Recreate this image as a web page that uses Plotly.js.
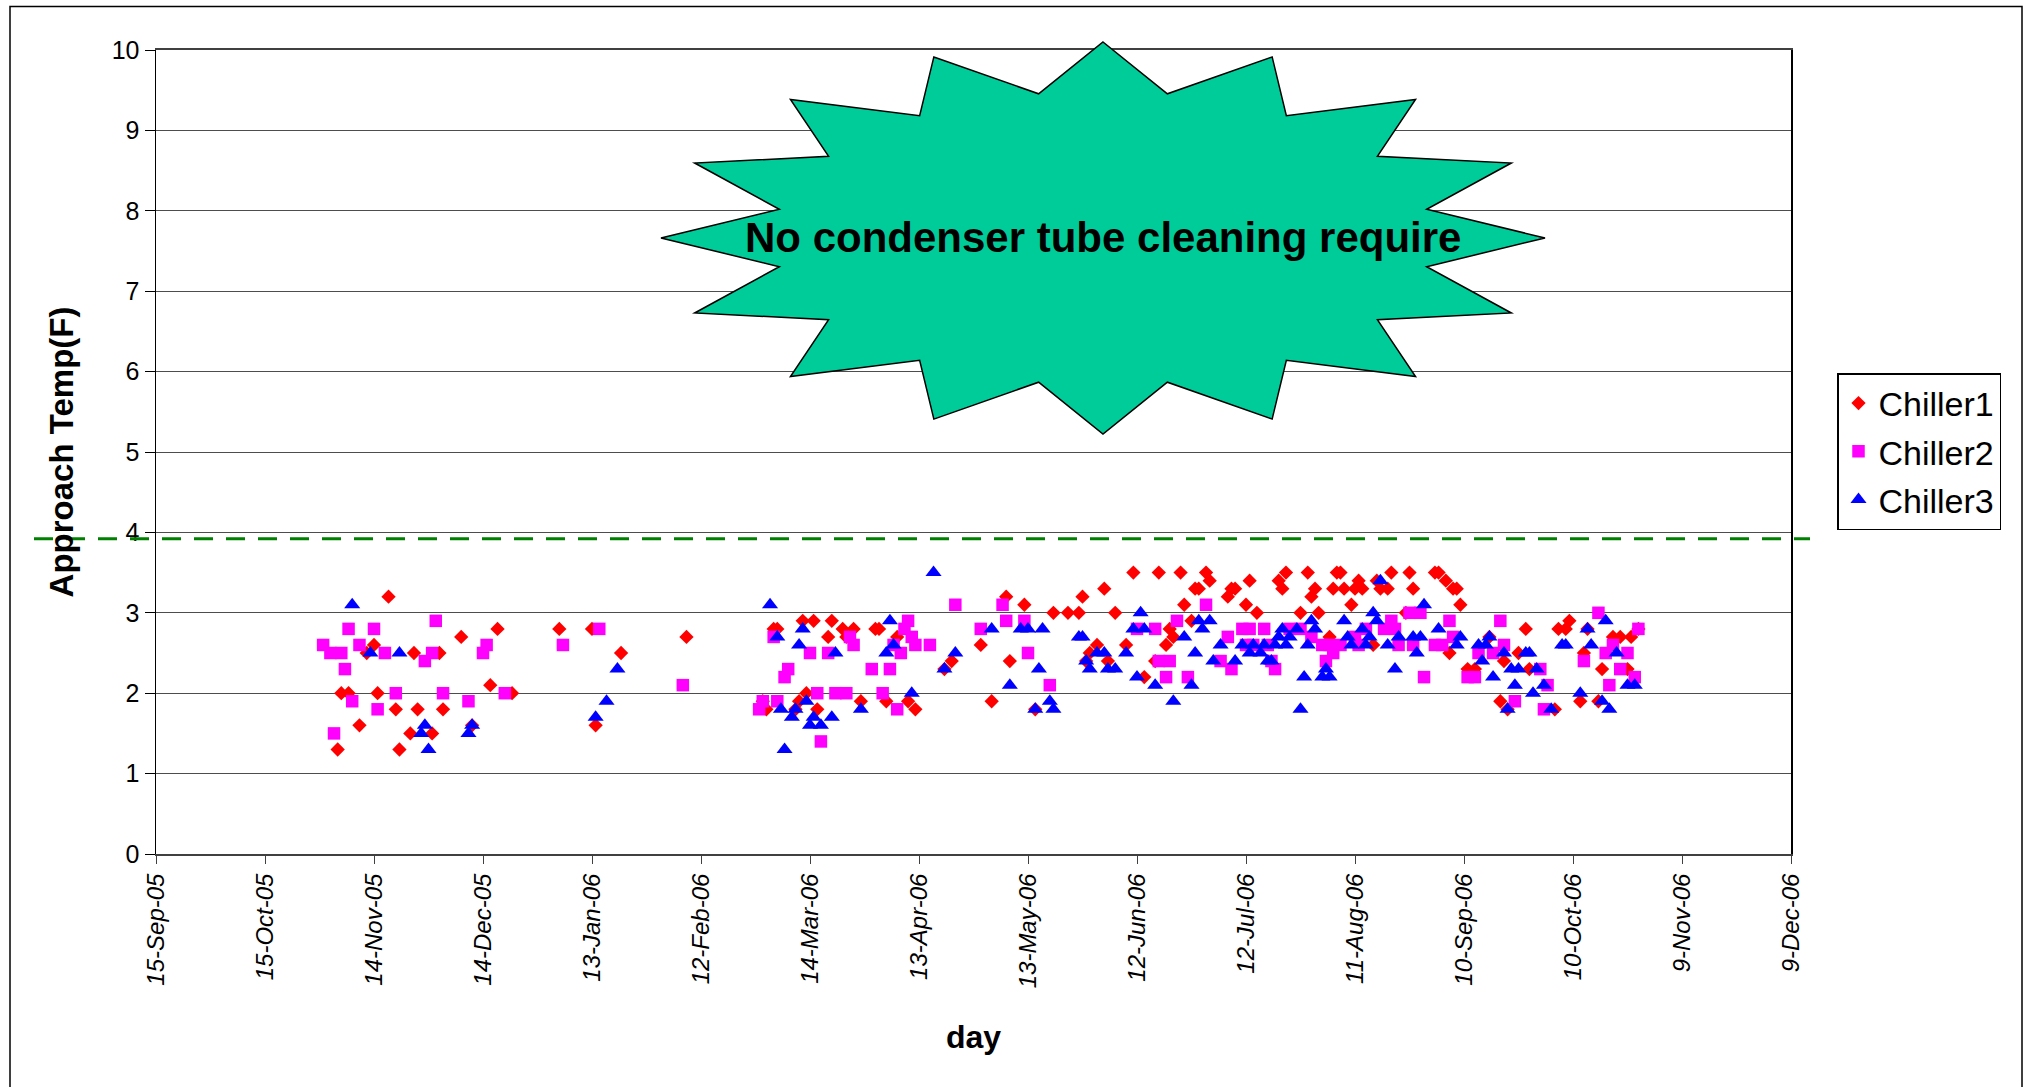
<!DOCTYPE html>
<html>
<head>
<meta charset="utf-8">
<script src="https://cdn.plot.ly/plotly-3.0.1.min.js"></script>
<style>
html,body{margin:0;padding:0;background:#fff;}
#chart{width:2027px;height:1087px;}
</style>
</head>
<body>
<div id="chart"></div>
<script>
// ---------------- DATA ----------------
const seriesNames = ['Chiller1', 'Chiller2', 'Chiller3'];

const chiller1Dates = [
  '2005-11-04','2005-11-05','2005-11-07','2005-11-10','2005-11-12','2005-11-14','2005-11-15','2005-11-18','2005-11-20','2005-11-21','2005-11-24','2005-11-25','2005-11-26','2005-11-30',
  '2005-12-02','2005-12-03','2005-12-08','2005-12-11','2005-12-16','2005-12-18','2005-12-22',
  '2006-01-04','2006-01-13','2006-01-14','2006-01-21','2006-02-08',
  '2006-03-01','2006-03-02','2006-03-04','2006-03-05','2006-03-10','2006-03-11','2006-03-12','2006-03-13','2006-03-15','2006-03-16','2006-03-19','2006-03-20','2006-03-23','2006-03-24','2006-03-26','2006-03-28',
  '2006-04-01','2006-04-02','2006-04-04','2006-04-07','2006-04-10','2006-04-12','2006-04-20','2006-04-22','2006-04-30',
  '2006-05-03','2006-05-07','2006-05-08','2006-05-12','2006-05-15','2006-05-20','2006-05-24','2006-05-27','2006-05-28','2006-05-29','2006-05-30',
  '2006-06-01','2006-06-03','2006-06-04','2006-06-06','2006-06-09','2006-06-11','2006-06-14','2006-06-17','2006-06-18','2006-06-20','2006-06-21','2006-06-22','2006-06-24','2006-06-25','2006-06-27','2006-06-28','2006-06-29',
  '2006-07-01','2006-07-02','2006-07-07','2006-07-08','2006-07-09','2006-07-12','2006-07-13','2006-07-15','2006-07-21','2006-07-22','2006-07-23','2006-07-27','2006-07-29','2006-07-30','2006-07-31',
  '2006-08-01','2006-08-04','2006-08-05','2006-08-06','2006-08-07','2006-08-08','2006-08-10','2006-08-11','2006-08-12','2006-08-13','2006-08-16','2006-08-17','2006-08-18','2006-08-20','2006-08-21','2006-08-25','2006-08-26','2006-08-27',
  '2006-09-02','2006-09-03','2006-09-05','2006-09-06','2006-09-07','2006-09-08','2006-09-09','2006-09-11','2006-09-13','2006-09-17','2006-09-20','2006-09-21','2006-09-22','2006-09-25','2006-09-27','2006-09-28',
  '2006-10-05','2006-10-06','2006-10-08','2006-10-09','2006-10-12','2006-10-13','2006-10-14','2006-10-17','2006-10-18','2006-10-21','2006-10-23','2006-10-25','2006-10-26','2006-10-28'
];
const chiller1Values = [
  1.3,2.0,2.0,1.6,2.5,2.6,2.0,3.2,1.8,1.3,1.5,2.5,1.8,1.5,
  2.5,1.8,2.7,1.6,2.1,2.8,2.0,
  2.8,2.8,1.6,2.5,2.7,
  1.9,1.8,2.8,2.8,1.8,1.9,2.9,2.0,2.9,1.8,2.7,2.9,2.8,2.7,2.8,1.9,
  2.8,2.8,1.9,2.7,1.9,1.8,2.3,2.4,2.6,
  1.9,3.2,2.4,3.1,1.8,3.0,3.0,3.0,3.2,2.4,2.5,
  2.6,3.3,2.4,3.0,2.6,3.5,2.2,2.4,3.5,2.6,2.8,2.7,3.5,3.1,2.9,3.3,3.3,
  3.5,3.4,3.2,3.3,3.3,3.1,3.4,3.0,3.4,3.3,3.5,3.0,3.5,3.2,3.3,
  3.0,2.7,3.3,3.5,3.5,3.3,3.1,3.3,3.4,3.3,2.6,3.4,3.3,3.3,3.5,3.0,3.5,3.3,
  3.5,3.5,3.4,2.5,3.3,3.3,3.1,2.3,2.3,2.7,1.9,2.4,1.8,2.5,2.8,2.3,
  1.8,2.8,2.8,2.9,1.9,2.5,2.8,1.9,2.3,2.7,2.7,2.3,2.7,2.8
];

const chiller2Dates = [
  '2005-10-31','2005-11-02','2005-11-03','2005-11-05','2005-11-06','2005-11-07','2005-11-08','2005-11-10','2005-11-14','2005-11-15','2005-11-17','2005-11-20','2005-11-28','2005-11-30',
  '2005-12-01','2005-12-03','2005-12-10','2005-12-14','2005-12-15','2005-12-20',
  '2006-01-05','2006-01-15','2006-02-07','2006-02-28',
  '2006-03-01','2006-03-04','2006-03-05','2006-03-07','2006-03-08','2006-03-14','2006-03-16','2006-03-17','2006-03-19','2006-03-21','2006-03-24','2006-03-25','2006-03-26','2006-03-31',
  '2006-04-03','2006-04-05','2006-04-06','2006-04-07','2006-04-08','2006-04-09','2006-04-10','2006-04-11','2006-04-12','2006-04-16','2006-04-23','2006-04-30',
  '2006-05-06','2006-05-07','2006-05-12','2006-05-13','2006-05-19',
  '2006-06-12','2006-06-17','2006-06-18','2006-06-20','2006-06-21','2006-06-23','2006-06-26',
  '2006-07-01','2006-07-05','2006-07-07','2006-07-08','2006-07-11','2006-07-12','2006-07-13','2006-07-14','2006-07-17','2006-07-18','2006-07-19','2006-07-20','2006-07-24','2006-07-27','2006-07-30',
  '2006-08-02','2006-08-03','2006-08-04','2006-08-05','2006-08-07','2006-08-11','2006-08-12','2006-08-14','2006-08-19','2006-08-21','2006-08-22','2006-08-23','2006-08-26','2006-08-27','2006-08-29','2006-08-30',
  '2006-09-02','2006-09-04','2006-09-06','2006-09-07','2006-09-11','2006-09-13','2006-09-14','2006-09-18','2006-09-20','2006-09-21','2006-09-24',
  '2006-10-01','2006-10-02','2006-10-03','2006-10-13','2006-10-17','2006-10-19','2006-10-20','2006-10-21','2006-10-23','2006-10-25','2006-10-27','2006-10-28'
];
const chiller2Values = [
  2.6,2.5,1.5,2.5,2.3,2.8,1.9,2.6,2.8,1.8,2.5,2.0,2.4,2.5,
  2.9,2.0,1.9,2.5,2.6,2.0,
  2.6,2.8,2.1,1.8,
  1.9,2.7,1.9,2.2,2.3,2.5,2.0,1.4,2.5,2.0,2.0,2.7,2.6,2.3,
  2.0,2.3,2.6,1.8,2.5,2.8,2.9,2.7,2.6,2.6,3.1,2.8,
  3.1,2.9,2.9,2.5,2.1,
  2.8,2.8,2.4,2.2,2.4,2.9,2.2,
  3.1,2.4,2.7,2.3,2.8,2.6,2.8,2.6,2.8,2.6,2.4,2.3,2.8,2.8,2.7,
  2.6,2.4,2.6,2.5,2.6,2.7,2.6,2.8,2.8,2.9,2.8,2.6,3.0,2.6,3.0,2.2,
  2.6,2.6,2.9,2.7,2.2,2.2,2.5,2.5,2.9,2.6,1.9,
  2.3,1.8,2.1,2.4,3.0,2.5,2.1,2.6,2.3,2.5,2.2,2.8
];

const chiller3Dates = [
  '2005-11-08','2005-11-13','2005-11-21','2005-11-27','2005-11-28','2005-11-29','2005-12-10','2005-12-11',
  '2006-01-14','2006-01-17','2006-01-20',
  '2006-03-03','2006-03-05','2006-03-06','2006-03-07','2006-03-09','2006-03-10','2006-03-11','2006-03-12','2006-03-13','2006-03-14','2006-03-15','2006-03-17','2006-03-20','2006-03-21','2006-03-28',
  '2006-04-04','2006-04-05','2006-04-06','2006-04-11','2006-04-17','2006-04-20','2006-04-23',
  '2006-05-03','2006-05-08','2006-05-11','2006-05-13','2006-05-15','2006-05-16','2006-05-17','2006-05-19','2006-05-20','2006-05-27','2006-05-28','2006-05-29','2006-05-30',
  '2006-06-01','2006-06-03','2006-06-04','2006-06-06','2006-06-09','2006-06-11','2006-06-12','2006-06-13','2006-06-14','2006-06-17','2006-06-22','2006-06-25','2006-06-27','2006-06-28','2006-06-29','2006-06-30',
  '2006-07-02','2006-07-03','2006-07-05','2006-07-09','2006-07-11','2006-07-13','2006-07-14','2006-07-16','2006-07-17','2006-07-18','2006-07-19','2006-07-20','2006-07-21','2006-07-22','2006-07-23','2006-07-24','2006-07-26','2006-07-27','2006-07-28','2006-07-29','2006-07-30','2006-07-31',
  '2006-08-02','2006-08-03','2006-08-04','2006-08-08','2006-08-09','2006-08-10','2006-08-13','2006-08-14','2006-08-15','2006-08-16','2006-08-17','2006-08-18','2006-08-20','2006-08-22','2006-08-23','2006-08-27','2006-08-28','2006-08-29','2006-08-30',
  '2006-09-03','2006-09-08','2006-09-09','2006-09-14','2006-09-15','2006-09-16','2006-09-17','2006-09-18','2006-09-21','2006-09-22','2006-09-23','2006-09-24','2006-09-25','2006-09-27','2006-09-28','2006-09-29','2006-09-30',
  '2006-10-02','2006-10-04','2006-10-07','2006-10-08','2006-10-12','2006-10-14','2006-10-15','2006-10-18','2006-10-19','2006-10-20','2006-10-22','2006-10-25','2006-10-27'
];
const chiller3Values = [
  3.1,2.5,2.5,1.5,1.6,1.3,1.5,1.6,
  1.7,1.9,2.3,
  3.1,2.7,1.8,1.3,1.7,1.8,2.6,2.8,1.9,1.6,1.7,1.6,1.7,2.5,1.8,
  2.5,2.9,2.6,2.0,3.5,2.3,2.5,
  2.8,2.1,2.8,2.8,1.8,2.3,2.8,1.9,1.8,2.7,2.7,2.4,2.3,
  2.5,2.5,2.3,2.3,2.5,2.8,2.2,3.0,2.8,2.1,1.9,2.7,2.1,2.5,2.9,2.8,
  2.9,2.4,2.6,2.4,2.6,2.5,2.6,2.5,2.6,2.4,2.4,2.6,2.7,2.8,2.6,2.7,2.8,1.8,2.2,2.6,2.9,2.8,
  2.2,2.3,2.2,2.9,2.7,2.6,2.8,2.6,2.7,3.0,2.9,3.4,2.6,2.3,2.7,2.7,2.5,2.7,3.1,
  2.8,2.6,2.7,2.6,2.4,2.6,2.7,2.2,2.5,1.8,2.3,2.1,2.3,2.5,2.5,2.0,2.3,
  2.1,1.8,2.6,2.6,2.0,2.8,2.6,1.9,2.9,1.8,2.5,2.1,2.1
];

const tickDates = ['2005-09-15','2005-10-15','2005-11-14','2005-12-14','2006-01-13','2006-02-12','2006-03-14','2006-04-13',
                   '2006-05-13','2006-06-12','2006-07-12','2006-08-11','2006-09-10','2006-10-10','2006-11-09','2006-12-09'];
const tickLabels = ['15-Sep-05','15-Oct-05','14-Nov-05','14-Dec-05','13-Jan-06','12-Feb-06','14-Mar-06','13-Apr-06',
                    '13-May-06','12-Jun-06','12-Jul-06','11-Aug-06','10-Sep-06','10-Oct-06','9-Nov-06','9-Dec-06'];
const xRange = ['2005-09-15', '2006-12-09'];
const yRange = [0, 10];
const thresholdValue = 3.92;
const calloutText = 'No condenser tube cleaning require';
const xTitle = 'day';
const yTitle = 'Approach Temp(F)';

// ---------------- LAYOUT GEOMETRY ----------------
const W = 2027, H = 1087;
const M = {l: 156, r: 236, t: 50, b: 233};
const PW = W - M.l - M.r, PH = H - M.t - M.b;
const pxX = p => (p - M.l) / PW;          // pixel -> paper x
const pxY = p => (H - M.b - p) / PH;      // pixel -> paper y
const FONT = 'Liberation Sans, Arial, Helvetica, sans-serif';

// starburst callout (decoration)
const star = {cx: 1103, cy: 238, rxO: 442, ryO: 196, rxI: 330, ryI: 147, n: 16};
let starPath = '';
for (let i = 0; i < 2 * star.n; i++) {
  const a = -Math.PI / 2 + i * Math.PI / star.n;
  const outer = i % 2 === 0;
  const rx = outer ? star.rxO : star.rxI;
  const ry = outer ? star.ryO : star.ryI;
  const x = pxX(star.cx + rx * Math.cos(a));
  const y = pxY(star.cy + ry * Math.sin(a));
  starPath += (i === 0 ? 'M' : 'L') + x.toFixed(5) + ',' + y.toFixed(5) + ' ';
}
starPath += 'Z';

const traces = [
  {type: 'scatter', mode: 'markers', name: seriesNames[0], x: chiller1Dates, y: chiller1Values,
   legendgroup: 'g1', marker: {symbol: 'diamond', size: 11, color: '#FF0000'}},
  {type: 'scatter', mode: 'markers', name: seriesNames[1], x: chiller2Dates, y: chiller2Values,
   legendgroup: 'g2', marker: {symbol: 'square', size: 12.5, color: '#FF00FF'}},
  {type: 'scatter', mode: 'markers', name: seriesNames[2], x: chiller3Dates, y: chiller3Values,
   legendgroup: 'g3', marker: {symbol: 'triangle-up', size: 14, color: '#0000FF'}}
];

const layout = {
  width: W, height: H,
  margin: M,
  paper_bgcolor: '#ffffff',
  plot_bgcolor: '#ffffff',
  font: {family: FONT, color: '#000000'},
  showlegend: true,
  legend: {
    x: pxX(1837), y: pxY(373), xanchor: 'left', yanchor: 'top',
    bgcolor: '#ffffff', bordercolor: '#000000', borderwidth: 1.5,
    font: {family: FONT, size: 34, color: '#000000'},
    tracegroupgap: 1
  },
  xaxis: {
    type: 'date', range: xRange, autorange: false,
    tickmode: 'array', tickvals: tickDates, ticktext: tickLabels,
    tickangle: -90,
    tickfont: {family: FONT, size: 24, style: 'italic', color: '#000000'},
    ticks: 'outside', ticklen: 8, tickcolor: '#404040', tickwidth: 1,
    showgrid: false, zeroline: false,
    showline: true, linecolor: '#404040', linewidth: 2, mirror: true,
    automargin: false,
    title: {text: xTitle, font: {family: FONT, size: 32, weight: 'bold', color: '#000000'}, standoff: 38}
  },
  yaxis: {
    range: yRange, autorange: false, tick0: 0, dtick: 1,
    tickfont: {family: FONT, size: 25, color: '#000000'},
    ticks: 'outside', ticklen: 10, tickcolor: '#000000', tickwidth: 1,
    showgrid: true, gridcolor: '#4d4d4d', gridwidth: 1,
    zeroline: false,
    showline: true, linecolor: '#000000', linewidth: 1.5, mirror: true,
    automargin: false,
    title: {text: yTitle, font: {family: FONT, size: 33, weight: 'bold', color: '#000000'}, standoff: 28}
  },
  shapes: [
    // outer chart-area frame
    {type: 'rect', xref: 'paper', yref: 'paper', x0: pxX(10), x1: pxX(2022), y0: pxY(1120), y1: pxY(6.5),
     line: {color: '#000000', width: 1.5}, fillcolor: 'rgba(0,0,0,0)', layer: 'below'},
    // threshold dashed line
    {type: 'line', xref: 'paper', yref: 'paper', x0: pxX(34), x1: pxX(1810),
     y0: (thresholdValue - yRange[0]) / (yRange[1] - yRange[0]),
     y1: (thresholdValue - yRange[0]) / (yRange[1] - yRange[0]),
     line: {color: '#008000', width: 3, dash: '19px,13px'}},
    // starburst
    {type: 'path', xref: 'paper', yref: 'paper', path: starPath,
     fillcolor: '#00CC99', line: {color: '#000000', width: 1.5}, layer: 'above'}
  ],
  annotations: [
    {xref: 'paper', yref: 'paper', x: pxX(1103), y: pxY(237), xanchor: 'center', yanchor: 'middle',
     text: calloutText, showarrow: false,
     font: {family: FONT, size: 42, weight: 'bold', color: '#000000'}}
  ]
};

Plotly.newPlot('chart', traces, layout, {staticPlot: true, displayModeBar: false});
</script>
</body>
</html>
